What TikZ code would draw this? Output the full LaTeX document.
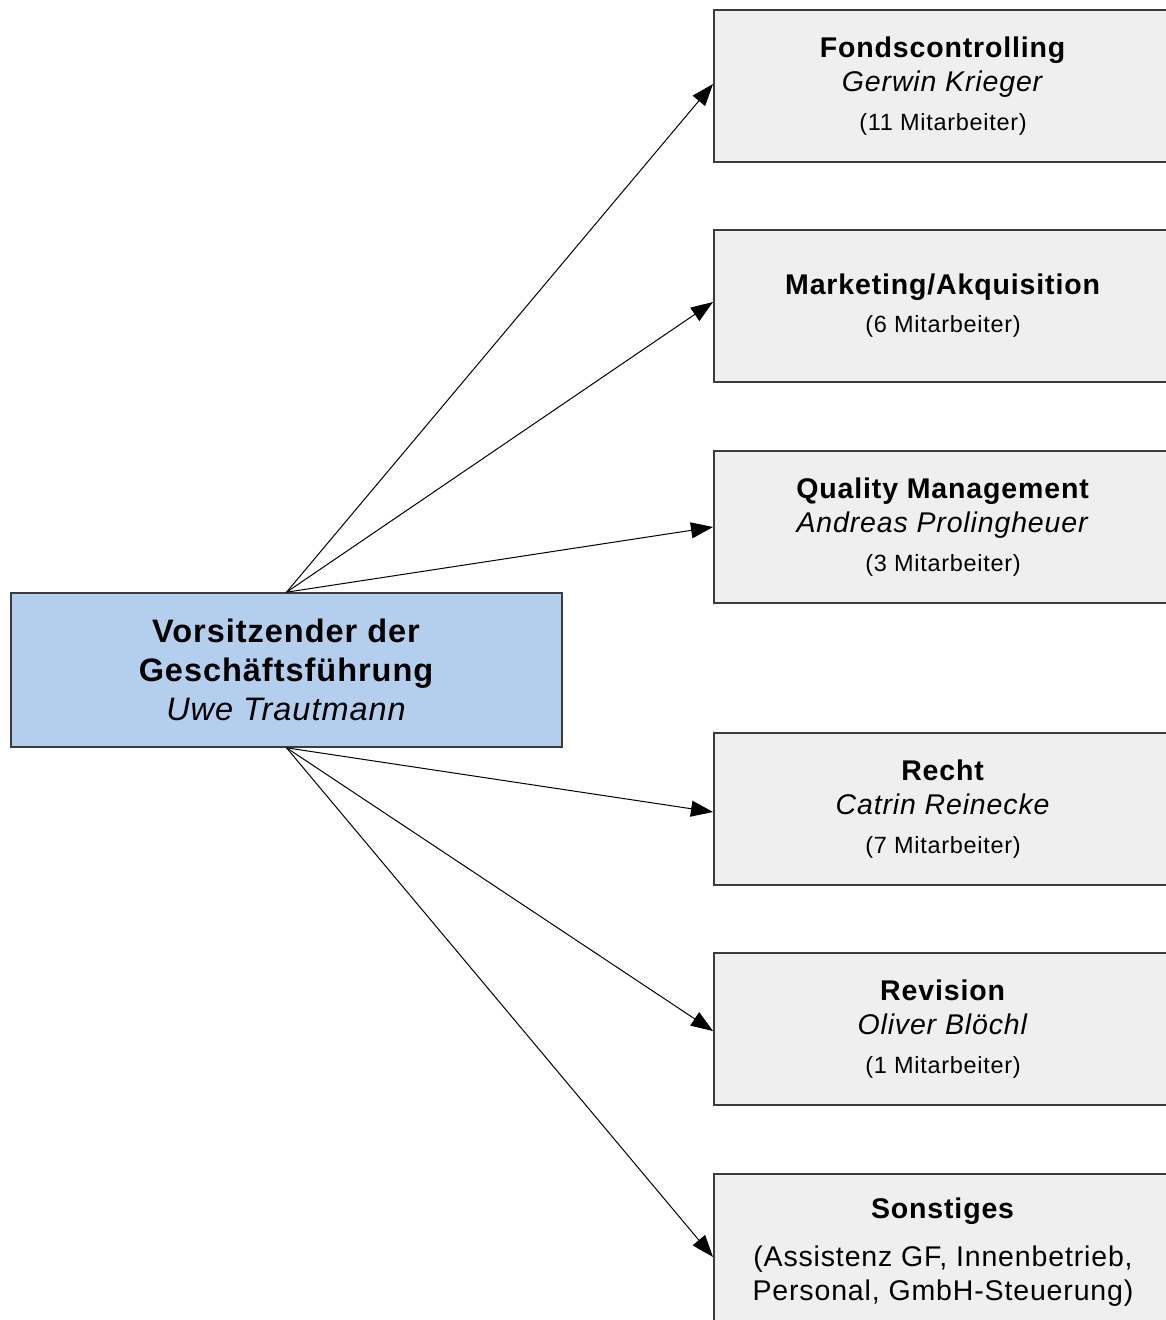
\documentclass[tikz,border=0pt]{standalone}
\usepackage{fontspec}
\setmainfont{Liberation Sans}[LetterSpace=3]
\usetikzlibrary{arrows.meta}
\definecolor{bossblue}{RGB}{180,207,238}
\definecolor{unitgray}{RGB}{239,239,239}
\definecolor{edgegray}{RGB}{60,60,60}
\tikzset{
  unitbox/.style={draw=edgegray, line width=2pt, fill=unitgray, minimum width=458pt, minimum height=152pt, inner sep=0pt, align=center, font=\fontsize{28.5}{34}\selectfont},
  bossbox/.style={draw=edgegray, line width=1.6pt, fill=bossblue, minimum width=551pt, minimum height=154pt, inner sep=0pt, align=center, font=\fontsize{32.5}{39}\selectfont},
  link/.style={line width=1pt, draw=black, -{Triangle[length=22pt,width=16pt]}}
}
\newcommand{\staff}[1]{{\fontsize{23.5}{34}\selectfont #1}}
\begin{document}
\begin{tikzpicture}[x=1pt,y=-1pt]
\clip (0,0) rectangle (1166,1320);
\fill[white] (0,0) rectangle (1166,1320);
\node[bossbox] (boss) at (286.5,670) {\textbf{Vorsitzender der}\\\textbf{Geschäftsführung}\\\textit{Uwe Trautmann}};
\node[unitbox] (fonds) at (943,86) {\textbf{Fondscontrolling}\\\textit{Gerwin Krieger}\\[5pt]\staff{(11 Mitarbeiter)}};
\node[unitbox] (mark) at (943,306) {\textbf{Marketing/Akquisition}\\[4pt]\staff{(6 Mitarbeiter)}};
\node[unitbox] (qm) at (943,527) {\textbf{Quality Management}\\\textit{Andreas Prolingheuer}\\[5pt]\staff{(3 Mitarbeiter)}};
\node[unitbox] (recht) at (943,809) {\textbf{Recht}\\\textit{Catrin Reinecke}\\[5pt]\staff{(7 Mitarbeiter)}};
\node[unitbox] (rev) at (943,1029) {\textbf{Revision}\\\textit{Oliver Blöchl}\\[5pt]\staff{(1 Mitarbeiter)}};
\node[unitbox, minimum height=156pt] (sonst) at (943,1252) {\textbf{Sonstiges}\\[14pt](Assistenz GF, Innenbetrieb,\\Personal, GmbH-Steuerung)};
\draw[link] (boss.north) -- ([yshift=2pt]fonds.west);
\draw[link] (boss.north) -- ([yshift=4pt]mark.west);
\draw[link] (boss.north) -- (qm.west);
\draw[link] (boss.south) -- ([yshift=-3pt]recht.west);
\draw[link] (boss.south) -- ([yshift=-2pt]rev.west);
\draw[link] (boss.south) -- ([yshift=-5pt]sonst.west);
\end{tikzpicture}
\end{document}
